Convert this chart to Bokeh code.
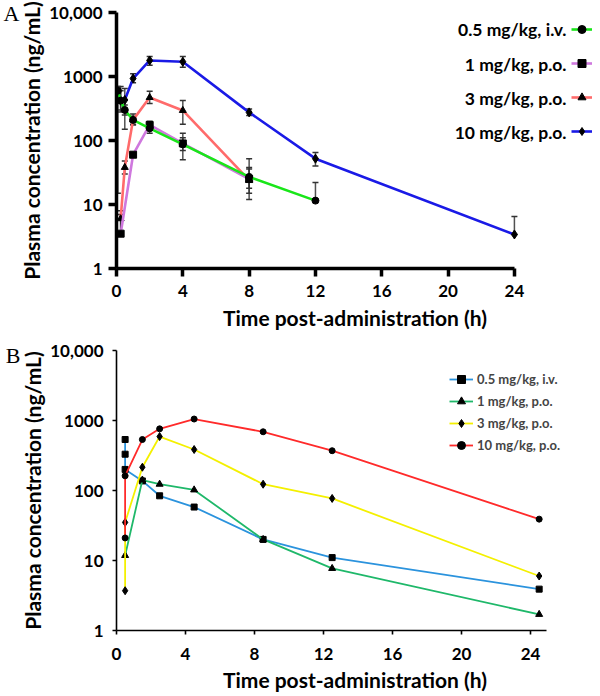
from bokeh.plotting import figure
from bokeh.models import (ColumnDataSource, Whisker, TeeHead, FixedTicker, Range1d,
                          Legend, LegendItem, Label, LogAxis)
from bokeh.layouts import column
from bokeh.embed import file_html
from bokeh.resources import INLINE

# ---------------- data : panel A (mean with error bars) ----------------
a_labels = ["0.5 mg/kg, i.v.", "1 mg/kg, p.o.", "3 mg/kg, p.o.", "10 mg/kg, p.o."]

a_iv_t = [0.083, 0.25, 0.5, 1, 2, 4, 8, 12]
a_iv_c = [600, 420, 300, 210, 155, 87, 27, 11.5]
a_iv_lo = [15, 300, 250, 180, 130, 70, 18, 11.5]
a_iv_hi = [700, 600, 360, 240, 185, 110, 38, 22]

a_po1_t = [0.25, 1, 2, 4, 8]
a_po1_c = [3.5, 60, 175, 90, 25]
a_po1_lo = [3.5, 55, 150, 50, 15]
a_po1_hi = [7, 65, 200, 130, 36]

a_po3_t = [0.25, 0.5, 1, 2, 4, 8]
a_po3_c = [6, 38, 210, 470, 295, 24]
a_po3_lo = [3.6, 30, 175, 380, 180, 12]
a_po3_hi = [8, 48, 260, 590, 420, 52]

a_po10_t = [0.25, 0.5, 1, 2, 4, 8, 12, 24]
a_po10_c = [420, 430, 930, 1780, 1700, 275, 52, 3.4]
a_po10_lo = [280, 150, 800, 1500, 1400, 245, 40, 3.4]
a_po10_hi = [700, 650, 1100, 2050, 2050, 310, 65, 6.5]

# ---------------- data : panel B ----------------
b_labels = ["0.5 mg/kg, i.v.", "1 mg/kg, p.o.", "3 mg/kg, p.o.", "10 mg/kg, p.o."]

b_iv_t = [0.5, 0.5, 0.5, 1.5, 2.5, 4.5, 8.5, 12.5, 24.5]
b_iv_c = [535, 330, 200, 137, 84, 58, 20, 11, 3.9]

b_po1_t = [0.5, 1.5, 2.5, 4.5, 8.5, 12.5, 24.5]
b_po1_c = [11.8, 141, 123, 102, 20, 7.7, 1.7]

b_po3_t = [0.5, 0.5, 1.5, 2.5, 4.5, 8.5, 12.5, 24.5]
b_po3_c = [3.7, 35, 215, 590, 385, 123, 77, 6]

b_po10_t = [0.5, 0.5, 1.5, 2.5, 4.5, 8.5, 12.5, 24.5]
b_po10_c = [21, 162, 535, 760, 1050, 690, 370, 39]

# ---------------- axes ----------------
y_tick_vals = [1, 10, 100, 1000, 10000]
y_tick_labels = ["1", "10", "100", "1000", "10,000"]
x_tick_vals = [0, 4, 8, 12, 16, 20, 24]
panel_letters = ["A", "B"]

FONT = "Lato"
y_label = "Plasma concentration (ng/mL)"
x_label = "Time post-administration (h)"


def style_axes(p, lw, tick_out, tick_fs, lab_fs, x_bounds, xs_standoff, xl_standoff,
               ys_standoff, yl_standoff):
    p.xaxis.ticker = FixedTicker(ticks=x_tick_vals, minor_ticks=[])
    p.yaxis.ticker = FixedTicker(ticks=y_tick_vals, minor_ticks=[])
    p.yaxis.major_label_overrides = {v: s for v, s in zip(y_tick_vals, y_tick_labels)}
    p.xaxis.bounds = x_bounds
    p.xaxis.axis_label = x_label
    p.yaxis.axis_label = y_label
    for ax in (p.xaxis, p.yaxis):
        ax.axis_line_width = lw
        ax.axis_line_color = "black"
        ax.major_tick_line_width = lw
        ax.major_tick_line_color = "black"
        ax.major_tick_out = tick_out
        ax.major_tick_in = 0
        ax.minor_tick_line_color = None
        ax.major_label_text_font = FONT
        ax.major_label_text_font_style = "bold"
        ax.major_label_text_font_size = tick_fs
        ax.major_label_text_color = "black"
        ax.axis_label_text_font = FONT
        ax.axis_label_text_font_style = "bold"
        ax.axis_label_text_font_size = lab_fs
        ax.axis_label_text_color = "black"
    p.xaxis.major_label_standoff = xs_standoff
    p.xaxis.axis_label_standoff = xl_standoff
    p.yaxis.major_label_standoff = ys_standoff
    p.yaxis.axis_label_standoff = yl_standoff
    p.xgrid.grid_line_color = None
    p.ygrid.grid_line_color = None
    p.outline_line_color = None


def add_letter(p, letter):
    ax = LogAxis(ticker=FixedTicker(ticks=[10000], minor_ticks=[]),
                 major_label_overrides={10000: letter},
                 axis_line_color=None, major_tick_line_color=None,
                 major_tick_out=0, major_tick_in=0,
                 minor_tick_line_color=None, major_label_standoff=-3,
                 major_label_text_font="Liberation Serif",
                 major_label_text_font_size="22px", major_label_text_color="black")
    p.add_layout(ax, "left")


# ================= Panel A =================
pA = figure(width=598, height=340, y_axis_type="log", output_backend="svg",
            toolbar_location=None, x_range=Range1d(0, 28.77), y_range=Range1d(1, 10000),
            min_border_left=116, min_border_right=5, min_border_top=12, min_border_bottom=72)
style_axes(pA, 3.5, 8, "17px", "21px", (0, 24), 8, 5, 6, 2)
add_letter(pA, panel_letters[0])

a_series = [
    (a_po10_t, a_po10_c, a_po10_lo, a_po10_hi, "#1a1ae6", "diamond", 9),
    (a_po3_t, a_po3_c, a_po3_lo, a_po3_hi, "#ff6b6b", "triangle", 7),
    (a_po1_t, a_po1_c, a_po1_lo, a_po1_hi, "#cf78de", "square", 7),
    (a_iv_t, a_iv_c, a_iv_lo, a_iv_hi, "#19e619", "circle", 7),
]
a_items = {}
for (t, c, lo, hi, col, mk, sz) in a_series:
    src = ColumnDataSource(dict(t=t, c=c, lo=lo, hi=hi))
    w = Whisker(source=src, base="t", lower="lo", upper="hi", dimension="height",
                line_color="#333333", line_width=1.5, line_alpha=0.85,
                lower_head=TeeHead(size=6, line_color="#333333", line_width=1.5),
                upper_head=TeeHead(size=6, line_color="#333333", line_width=1.5))
    pA.add_layout(w)
    ln = pA.line("t", "c", source=src, line_color=col, line_width=2.6)
    sc = pA.scatter("t", "c", source=src, marker=mk, size=sz, fill_color="black",
                    line_color="black")
    a_items[col] = (ln, sc)

order_cols = ["#19e619", "#cf78de", "#ff6b6b", "#1a1ae6"]
legA = Legend(items=[LegendItem(label=" ", renderers=list(a_items[c])) for c in order_cols],
              location=(455, 127), glyph_width=21, glyph_height=20, spacing=14,
              padding=0, margin=0, border_line_color=None, background_fill_alpha=0,
              label_text_font_size="1px", label_standoff=0, label_width=0)
pA.add_layout(legA)
a_row_y = [239, 204, 170, 136]
for txt, yy in zip(a_labels, a_row_y):
    pA.add_layout(Label(x=450, y=yy, x_units="screen", y_units="screen", text=txt,
                        text_align="right", text_baseline="middle", text_font=FONT,
                        text_font_style="bold", text_font_size="17.5px", text_color="black"))

# ================= Panel B =================
pB = figure(width=598, height=354, y_axis_type="log", output_backend="svg",
            toolbar_location=None, x_range=Range1d(0, 27.65), y_range=Range1d(1, 10000),
            min_border_left=115, min_border_right=5, min_border_top=10, min_border_bottom=61)
style_axes(pB, 1.6, 4, "17px", "21px", (0, 24.9), 13, 4, 9, 2)
add_letter(pB, panel_letters[1])

b_series = [
    (b_iv_t, b_iv_c, "#2b93dd", "square", 6),
    (b_po1_t, b_po1_c, "#1fb86a", "triangle", 7),
    (b_po3_t, b_po3_c, "#f4f000", "diamond", 8),
    (b_po10_t, b_po10_c, "#ff2a2a", "circle", 6),
]
b_items = []
for (t, c, col, mk, sz), lab in zip(b_series, b_labels):
    src = ColumnDataSource(dict(t=t, c=c))
    ln = pB.line("t", "c", source=src, line_color=col, line_width=1.8)
    sc = pB.scatter("t", "c", source=src, marker=mk, size=sz, fill_color="black",
                    line_color="black")
    b_items.append(LegendItem(label=lab, renderers=[ln, sc]))

legB = Legend(items=b_items, location=(333, 175), glyph_width=24, glyph_height=20,
              spacing=2, padding=0, margin=0, border_line_color=None,
              background_fill_alpha=0, label_text_font=FONT, label_text_font_style="bold",
              label_text_font_size="13px", label_standoff=4, label_height=20)
pB.add_layout(legB)

layout = column(pA, pB, spacing=0)
open("out.html", "w").write(file_html(layout, INLINE))
